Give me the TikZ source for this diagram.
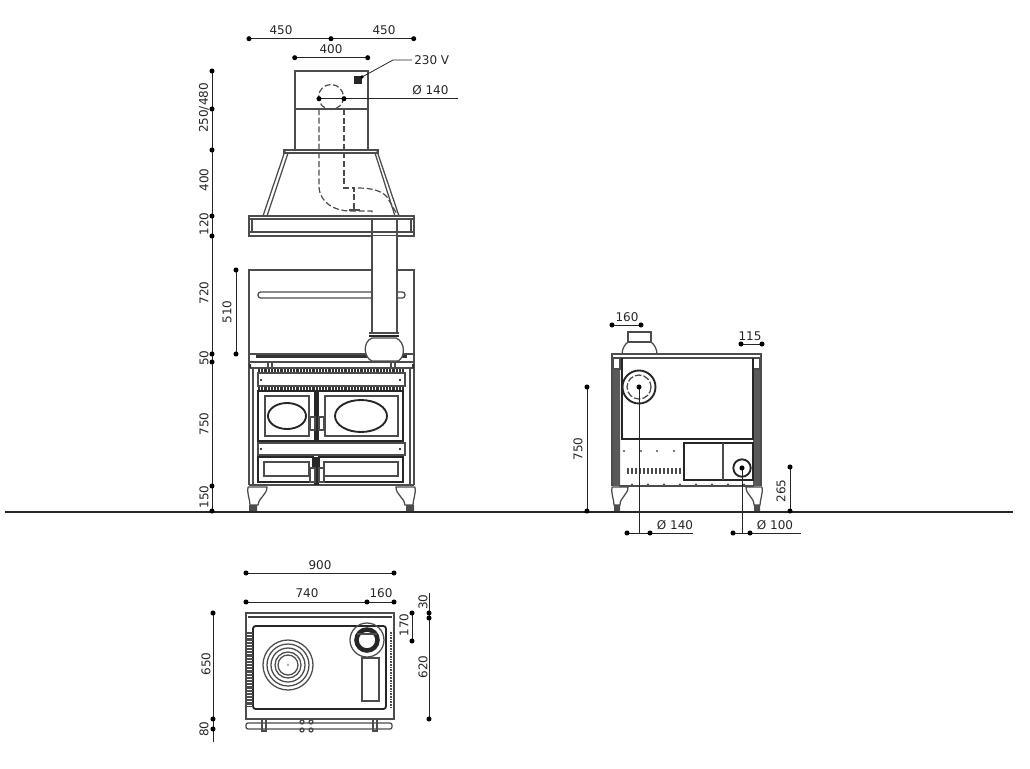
\documentclass[tikz,border=0pt]{standalone}
\usepackage{fontspec}
\setmainfont{DejaVu Sans}
\definecolor{linegray}{gray}{0.3}
\definecolor{textgray}{gray}{0.15}
\tikzset{
    dimline/.style={line width=0.6pt,draw=textgray},
    dimlabel/.style={font=\fontsize{9}{10}\selectfont,text=textgray,inner sep=0pt},
    dimside/.style={dimlabel,rotate=90},
    part/.style={line width=0.95pt,draw=linegray},
    heavy/.style={line width=1.4pt,draw=black!85},
    hidden/.style={line width=0.9pt,draw=linegray,dash pattern=on 4.5pt off 2pt},
    band/.style={line width=2.6pt,draw=black!80,dash pattern=on 1.6pt off 0.8pt},
}
\newcommand{\dimdots}[1]{\foreach \px/\py in {#1} \fill[black] (\px,\py) circle [radius=1.9pt];}
\begin{document}
\begin{tikzpicture}[x=0.75pt,y=-0.75pt]
    \useasboundingbox (0,0) rectangle (1030,768);
    %% Hood
    \draw[part] (295,109) -- (295,71) -- (368,71) -- (368,150);
    \draw[part] (295,109) -- (295,150);
    \draw[part] (295,109) -- (368,109);
    \fill[black!85] (354,76) rectangle (362,84);
    \draw[part] (284,150) rectangle (378,153);
    \draw[part] (285,151) -- (263,216) (288,153) -- (267,216);
    \draw[part] (377,151) -- (399,216) (375,153) -- (395,216);
    %% Hidden flue
    \draw[hidden] (331,97) circle [radius=12.5];
    \draw[hidden] (319,109) -- (319,187) .. controls (320,203) and (335,211) .. (350,211) -- (372,211) -- (372,217);
    \draw[hidden] (344,109) -- (344,188) -- (354,188) -- (354,210);
    \draw[hidden] (358,188) .. controls (372,188) and (382,191) .. (387,197) -- (397,214);
    \draw[part] (349,210) -- (360,210);
    %% Hood frame
    \draw[part] (249,216) rectangle (414,236);
    \draw[part] (249,219) -- (414,219) (249,232) -- (414,232);
    \draw[part] (252,219) -- (252,232) (411,219) -- (411,232);
    %% Back panel
    \draw[part] (249,354) -- (249,270) -- (414,270) -- (414,354);
    \draw[part,rounded corners=2pt] (258,292) rectangle (405,298);
    %% Flue pipe
    \fill[white] (372,236) rectangle (397,332);
    \draw[part] (372,219) -- (372,333) (397,219) -- (397,333);
    \draw[part] (369,333) -- (399,333);
    \draw[heavy] (369,336) -- (399,336);
    %% Cook top
    \draw[line width=2.4pt,draw=black!80] (256,356.5) -- (407,356.5);
    \draw[part] (249,354) rectangle (414,362);
    \draw[part,fill=white] (372,338) .. controls (362,342) and (364,358) .. (372,361) -- (398,361) .. controls (405,358) and (406,342) .. (396,338) -- cycle;
    \draw[part] (268,362) -- (268,368) (272,362) -- (272,368) (391,362) -- (391,368) (395,362) -- (395,368);
    \draw[part] (249,362) rectangle (414,368);
    \fill[black!80] (249,364) rectangle (251,368) (412,364) rectangle (414,368);
    \draw[band] (258,370.5) -- (405,370.5);
    %% Stove body
    \draw[part] (249,368) -- (249,485) (253,368) -- (253,485);
    \draw[part] (414,368) -- (414,485) (410,368) -- (410,485);
    \draw[part] (249,485) -- (414,485);
    \draw[part] (258,373) rectangle (405,386);
    \draw[band] (258,389) -- (405,389);
    %% Upper doors
    \draw[heavy] (258,391) rectangle (403,441);
    \draw[part] (265,396) rectangle (309,436);
    \draw[part] (325,396) rectangle (398,436);
    \draw[line width=3.5pt,draw=black!85] (316.5,391) -- (316.5,441);
    \draw[heavy] (287,416) ellipse [x radius=19,y radius=13];
    \draw[heavy] (361,416) ellipse [x radius=26,y radius=16];
    \draw[part,fill=white] (310,417) rectangle (315,430) (319,417) rectangle (324,430);
    %% Lower drawers
    \draw[part] (258,443) rectangle (405,455);
    \draw[heavy] (258,457) rectangle (313,482) (319,457) rectangle (403,482);
    \draw[part] (264,462) rectangle (309,476);
    \draw[part] (324,462) rectangle (398,476);
    \draw[line width=3.5pt,draw=black!85] (316.5,457) -- (316.5,485);
    \draw[part,fill=white] (310,468) rectangle (315,482) (319,468) rectangle (324,482);
    \foreach \x in {261,400} {\fill[black] (\x,380) circle [radius=0.8pt] (\x,449) circle [radius=0.8pt];}
    %% Feet
    \draw[part] (248,487) -- (267,487) .. controls (267,495) and (259,497) .. (258,505) -- (256,505) -- (250,505) .. controls (250,499) and (247,495) .. (248,487);
    \draw[part] (415,487) -- (396,487) .. controls (396,495) and (404,497) .. (405,505) -- (413,505) .. controls (413,499) and (416,495) .. (415,487);
    \fill[black!70] (249,505) rectangle (257,511) (406,505) rectangle (414,511);
    %% Side view
    \draw[part] (628,342) rectangle (651,332);
    \draw[part] (622,354) .. controls (622,349) and (625,344) .. (628,342) (651,342) .. controls (654,344) and (657,349) .. (657,354);
    \draw[part] (612,354) rectangle (761,358);
    \draw[part] (612,358) -- (612,486) (761,358) -- (761,486);
    \fill[black!65] (613,368) rectangle (620,486) (753,368) rectangle (760,486);
    \draw[part,fill=white] (613,358) rectangle (620,369) (753,358) rectangle (760,369);
    \draw[heavy] (622,358) -- (622,439) -- (753,439) -- (753,358);
    \draw[part] (619,486) -- (754,486);
    \draw[heavy] (684,443) rectangle (753,480);
    \draw[part] (723,443) -- (723,480);
    \draw[heavy] (639,387) circle [radius=16.5];
    \draw[part,dash pattern=on 5pt off 1.5pt] (639,387) circle [radius=12];
    \draw[heavy,fill=white] (742,468) circle [radius=8.7];
    \foreach \x in {624,641,657,674} {\fill[black!70] (\x,451) circle [radius=0.9pt];}
    \foreach \x in {628,632,...,680} {\draw[line width=1.6pt,draw=black!70] (\x,468) -- (\x,474);}
    \foreach \x in {632,648,...,744} {\fill[black!70] (\x,484.5) circle [radius=0.8pt];}
    %% Side feet
    \draw[part] (612,487) -- (628,487) .. controls (628,495) and (620,497) .. (620,505) -- (614,505) .. controls (614,499) and (611,495) .. (612,487);
    \draw[part] (762,487) -- (746,487) .. controls (746,495) and (754,497) .. (754,505) -- (760,505) .. controls (760,499) and (763,495) .. (762,487);
    \fill[black!70] (614,505) rectangle (620,511) (754,505) rectangle (760,511);
    %% Floor
    \draw[line width=2pt,draw=black!85] (5,512) -- (1013,512);
    %% Top view
    \draw[part] (246,613) rectangle (394,719);
    \draw[line width=1.4pt,draw=black!75] (248,617) -- (392,617);
    \draw[heavy,rounded corners=2pt] (253,626) rectangle (386,709);
    \draw[line width=5pt,draw=black!70,dash pattern=on 1.6pt off 0.8pt] (249.5,632) -- (249.5,707);
    \draw[line width=2pt,draw=black!70,dash pattern=on 1.2pt off 0.8pt] (391,632) -- (391,707);
    \foreach \r in {25,21,17,13,10} {\draw[part] (288,665) circle [radius=\r];}
    \fill[black!60] (288,665) circle [radius=0.6pt];
    \draw[part] (367,640) circle [radius=17];
    \draw[line width=3.4pt,draw=black!85] (367,640) circle [radius=10.5];
    \draw[part] (357,634) -- (377,634);
    \draw[part] (362,658) rectangle (379,701);
    \draw[part,rounded corners=1.5pt] (246,723) rectangle (392,729);
    \draw[part] (262,719) rectangle (266,731) (373,719) rectangle (377,731);
    \foreach \x in {302,311} {\draw[part] (\x,722) circle [radius=2] (\x,730) circle [radius=2];}
    %% Dimensions
    \draw[dimline] (249,38.7) -- (413.7,38.7);
    \dimdots{249/38.7,331/38.7,413.7/38.7}
    \draw[dimline] (294.7,57.7) -- (367.7,57.7);
    \dimdots{294.7/57.7,367.7/57.7}
    \draw[dimline] (362,77) -- (393,60) -- (412,60);
    \fill[black] (362,77) circle [radius=1.4pt];
    \draw[dimline] (319,98.7) -- (458,98.7);
    \dimdots{319/98.7,344/98.7}
    \draw[dimline] (212,71) -- (212,511);
    \dimdots{212/71,212/109,212/150,212/216,212/236,212/354,212/362,212/486,212/511}
    \draw[dimline] (236,270) -- (236,354);
    \dimdots{236/270,236/354}
    \draw[dimline] (612,325) -- (641,325);
    \dimdots{612/325,641/325}
    \draw[dimline] (741,344) -- (762,344);
    \dimdots{741/344,762/344}
    \draw[dimline] (587,387) -- (587,511);
    \dimdots{587/387,587/511}
    \draw[dimline] (790,467) -- (790,511);
    \dimdots{790/467,790/511}
    \draw[dimline] (639,387) -- (639,533);
    \draw[dimline] (627,533) -- (693,533);
    \dimdots{639/387,627/533,650/533}
    \draw[dimline] (742,468) -- (742,533);
    \draw[dimline] (733,533) -- (801,533);
    \dimdots{742/468,733/533,750/533}
    \draw[dimline] (246,573) -- (394,573);
    \dimdots{246/573,394/573}
    \draw[dimline] (246,602) -- (394,602);
    \dimdots{246/602,367/602,394/602}
    \draw[dimline] (213,613) -- (213,742);
    \dimdots{213/613,213/719,213/729}
    \draw[dimline] (429,593) -- (429,719);
    \dimdots{429/613,429/618,429/719}
    \draw[dimline] (412,613) -- (412,641);
    \dimdots{412/613,412/641}
    %% Labels
    \node[dimlabel] (top450a) at (281,30) {450};
    \node[dimlabel] (top450b) at (384,30) {450};
    \node[dimlabel] (top400) at (331,49) {400};
    \node[dimlabel,anchor=west] (volt230) at (414,60) {230 V};
    \node[dimlabel,anchor=west] (flue140) at (412,90.5) {Ø 140};
    \node[dimside] (high250) at (204,108) {250/480};
    \node[dimside] (high400) at (204,180) {400};
    \node[dimside] (high120) at (204,224) {120};
    \node[dimside] (high720) at (204,293) {720};
    \node[dimside] (high50) at (204,358) {50};
    \node[dimside] (high750) at (204,424) {750};
    \node[dimside] (high150) at (204,497) {150};
    \node[dimside] (back510) at (227,312) {510};
    \node[dimlabel] (side160) at (627,317) {160};
    \node[dimlabel] (side115) at (750,336) {115};
    \node[dimside] (side750) at (578,449) {750};
    \node[dimside] (side265) at (781,491) {265};
    \node[dimlabel] (outlet140) at (675,525) {Ø 140};
    \node[dimlabel] (outlet100) at (775,525) {Ø 100};
    \node[dimlabel] (plan900) at (320,565) {900};
    \node[dimlabel] (plan740) at (307,593) {740};
    \node[dimlabel] (plan160) at (381,593) {160};
    \node[dimside] (plan650) at (206,664) {650};
    \node[dimside] (plan80) at (204,729) {80};
    \node[dimside] (plan30) at (423,602) {30};
    \node[dimside] (plan170) at (404,625) {170};
    \node[dimside] (plan620) at (423,667) {620};
\end{tikzpicture}
\end{document}
